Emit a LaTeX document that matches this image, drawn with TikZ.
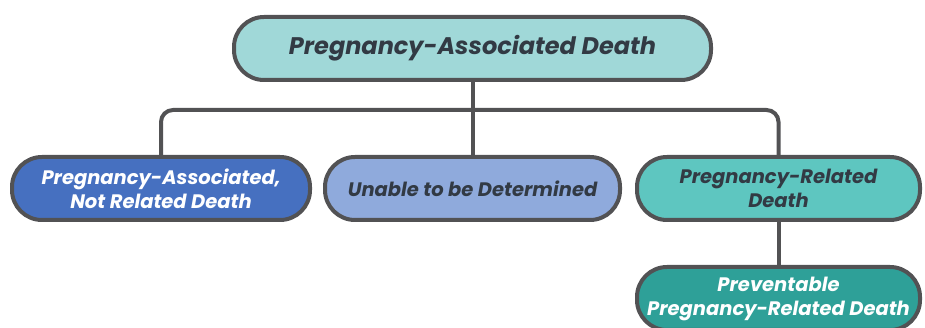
\documentclass[tikz,border=0pt]{standalone}
\usepackage{fontspec}
\setmainfont{Poppins}
\usetikzlibrary{positioning}

\definecolor{edgegray}{RGB}{82,82,84}
\definecolor{txtdark}{RGB}{50,58,68}
\definecolor{topteal}{RGB}{160,216,216}
\definecolor{blueone}{RGB}{70,112,192}
\definecolor{bluetwo}{RGB}{143,170,220}
\definecolor{tealmid}{RGB}{94,198,192}
\definecolor{tealdark}{RGB}{46,160,152}

\begin{document}
\begin{tikzpicture}[x=1pt,y=1pt,
    pill/.style={draw=edgegray,line width=4pt,rounded corners=30pt,
      minimum height=63pt,align=center,inner sep=0pt,
      font=\bfseries\itshape\fontsize{19.5}{24}\selectfont},
    link/.style={draw=edgegray,line width=4pt}]
  \useasboundingbox (0,0) rectangle (925,328);

  % top box
  \node[pill,fill=topteal,text=txtdark,minimum width=477pt,
    font=\bfseries\itshape\fontsize{24}{28}\selectfont]
    (top) at (472.5,279.5) {Pregnancy-Associated Death};

  % three outcome boxes
  \node[pill,fill=blueone,text=white,minimum width=298pt]
    (notrel) at (161,139.5) {Pregnancy-Associated,\\Not Related Death};
  \node[pill,fill=bluetwo,text=txtdark,minimum width=295pt]
    (unable) at (472.5,139.5) {Unable to be Determined};
  \node[pill,fill=tealmid,text=txtdark,minimum width=283pt]
    (related) at (778.5,139.5) {Pregnancy-Related\\Death};

  % preventable box
  \node[pill,fill=tealdark,text=white,minimum width=283pt]
    (prevent) at (778.5,29.5) {Preventable\\Pregnancy-Related Death};

  % connectors
  \coordinate (bar) at (472.5,218);
  \draw[link] (top) -- (unable);
  \draw[link,rounded corners=12pt] (notrel.north) |- (bar) -| (related.north);
  \draw[link] (related) -- (prevent);
\end{tikzpicture}
\end{document}
